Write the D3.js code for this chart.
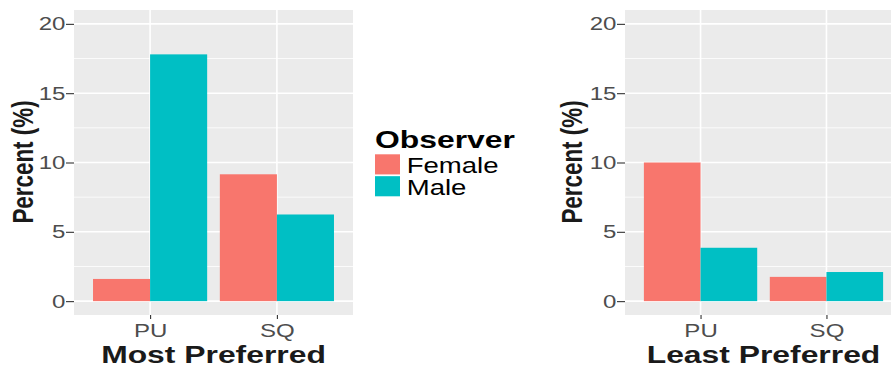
<!DOCTYPE html>
<html>
<head>
<meta charset="utf-8">
<script src="https://cdn.jsdelivr.net/npm/d3@7"></script>
<style>
  body { margin: 0; background: #fff; }
  svg { display: block; font-family: "Liberation Sans", Arial, sans-serif; }
</style>
</head>
<body>
<svg id="chart" width="891" height="369"></svg>
<script>
// ---- data ----
const categories = ['PU', 'SQ']
const observers = ['Female', 'Male']
const mostFemale = [1.6, 9.15]
const mostMale = [17.8, 6.25]
const leastFemale = [10.0, 1.75]
const leastMale = [3.85, 2.1]
const yTicks = [0, 5, 10, 15, 20]
const yMinor = [2.5, 7.5, 12.5, 17.5]
const colors = ['#F8766D', '#00BFC4']

// whole reference is stretched sideways, text gets the same squash
const SX = 1.3
const svg = d3.select('#chart')

const y = d3.scaleLinear().domain([-1, 21]).range([315, 10])

function stretchText (parent, x, yy, str, size, weight, anchor, fill) {
  return parent.append('text')
    .attr('transform', `translate(${x},${yy}) scale(${SX},1)`)
    .attr('text-anchor', anchor)
    .style('font-size', size + 'px')
    .style('font-weight', weight)
    .style('fill', fill)
    .text(str)
}

function drawPanel (left, right, female, male, title, ylabX) {
  const g = svg.append('g')
  const rows = categories.map((c, i) => ({ cat: c, vals: [female[i], male[i]] }))

  const x = d3.scalePoint().domain(categories).range([left, right]).padding(0.6)
  const step = x.step()
  const sub = d3.scaleBand().domain(observers).range([-0.45 * step, 0.45 * step])

  // panel background
  g.append('rect')
    .attr('x', left).attr('y', y.range()[1])
    .attr('width', right - left).attr('height', y.range()[0] - y.range()[1])
    .attr('fill', '#EBEBEB')

  // grid
  g.selectAll('.minor').data(yMinor).enter().append('line')
    .attr('x1', left).attr('x2', right)
    .attr('y1', d => y(d)).attr('y2', d => y(d))
    .attr('stroke', '#fff').attr('stroke-width', 0.8)
  g.selectAll('.major').data(yTicks).enter().append('line')
    .attr('x1', left).attr('x2', right)
    .attr('y1', d => y(d)).attr('y2', d => y(d))
    .attr('stroke', '#fff').attr('stroke-width', 1.6)
  g.selectAll('.vmajor').data(categories).enter().append('line')
    .attr('x1', d => x(d)).attr('x2', d => x(d))
    .attr('y1', y.range()[1]).attr('y2', y.range()[0])
    .attr('stroke', '#fff').attr('stroke-width', 1.6)

  // bars
  rows.forEach(r => {
    g.selectAll(null).data(r.vals).enter().append('rect')
      .attr('x', (d, i) => x(r.cat) + sub(observers[i]))
      .attr('width', sub.bandwidth())
      .attr('y', d => y(d))
      .attr('height', d => y(0) - y(d))
      .attr('fill', (d, i) => colors[i])
  })

  // y axis
  const ya = g.append('g')
    .attr('transform', `translate(${left},0)`)
    .call(d3.axisLeft(y).tickValues(yTicks).tickSize(8))
  ya.select('.domain').remove()
  ya.selectAll('.tick line').attr('stroke', '#333').attr('stroke-width', 1.1)
  ya.selectAll('.tick text')
    .attr('x', 0).attr('dy', '0.32em')
    .attr('transform', `translate(-8.5,0) scale(${SX},1)`)
    .style('font-size', '18.5px')
    .style('fill', '#4D4D4D')
    .style('font-family', '"Liberation Sans", Arial, sans-serif')

  // x axis
  const xa = g.append('g')
    .attr('transform', `translate(0,${y.range()[0]})`)
    .call(d3.axisBottom(x).tickSize(4))
  xa.select('.domain').remove()
  xa.selectAll('.tick line').attr('stroke', '#333').attr('stroke-width', 1.1)
  xa.selectAll('.tick text')
    .attr('y', 0).attr('dy', 0)
    .attr('transform', `translate(0,21.7) scale(${SX},1)`)
    .style('font-size', '18.5px')
    .style('fill', '#4D4D4D')
    .style('font-family', '"Liberation Sans", Arial, sans-serif')

  // titles
  stretchText(g, (left + right) / 2, 362.8, title, 24.5, 700, 'middle', '#1a1a1a')

  g.append('text')
    .attr('transform', `translate(${ylabX},162) scale(${SX},1) rotate(-90)`)
    .attr('text-anchor', 'middle')
    .style('font-size', '22.4px')
    .style('font-weight', 700)
    .style('fill', '#1a1a1a')
    .text('Percent (%)')
}

drawPanel(74, 353, mostFemale, mostMale, 'Most Preferred', 33.3)
drawPanel(625, 902, leastFemale, leastMale, 'Least Preferred', 582)

// ---- legend ----
const legend = svg.append('g')
stretchText(legend, 375, 148.3, 'Observer', 24.5, 700, 'start', '#000')
const keyY = d3.scaleBand().domain(observers).range([154.3, 196.3]).paddingInner(0.08)
legend.selectAll('.key').data(observers).enter().append('rect')
  .attr('x', 375).attr('width', 25)
  .attr('y', d => keyY(d)).attr('height', keyY.bandwidth())
  .attr('fill', (d, i) => colors[i])
observers.forEach(o => {
  stretchText(legend, 406.7, keyY(o) + keyY.bandwidth() - 1.3, o, 21.2, 400, 'start', '#000')
})
</script>
</body>
</html>
